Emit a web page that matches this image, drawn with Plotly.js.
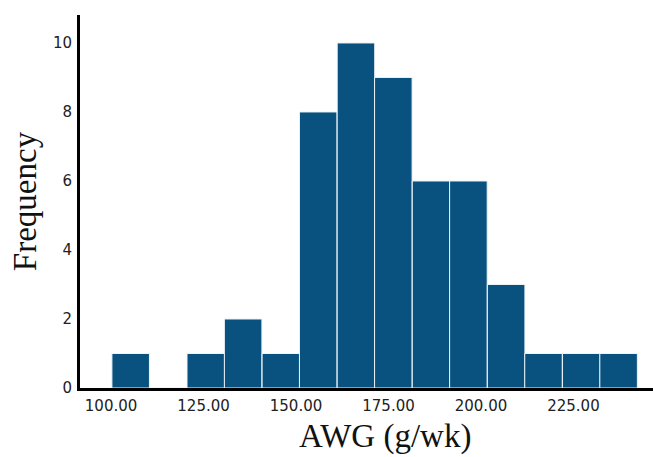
<!DOCTYPE html>
<html>
<head>
<meta charset="utf-8">
<script src="https://cdn.plot.ly/plotly-3.0.1.min.js"></script>
<style>html,body{margin:0;padding:0;background:#fff;}#chart{width:653px;height:457px;}</style>
</head>
<body>
<div id="chart"></div>
<script>
// Bin centers of the AWG histogram (g/wk) and the frequency in each bin
var binCenters = [105.3, 115.4, 125.6, 135.7, 145.9, 156.0, 166.2, 176.3, 186.5, 196.6, 206.8, 216.9, 227.1, 237.2];
var binWidth = 10.15;
var frequencies = [1, 0, 1, 2, 1, 8, 10, 9, 6, 6, 3, 1, 1, 1];
var xTicks = [100, 125, 150, 175, 200, 225];
var yTicks = [0, 2, 4, 6, 8, 10];
var xTitle = 'AWG (g/wk)';
var yTitle = 'Frequency';

var trace = {
  type: 'bar',
  x: binCenters,
  y: frequencies,
  width: binCenters.map(function(){ return binWidth; }),
  marker: { color: 'rgb(9,82,128)', line: { color: '#eef4f8', width: 1 } },
  hoverinfo: 'x+y'
};

var layout = {
  width: 653, height: 457,
  margin: { l: 80, r: 0, t: 15, b: 69 },
  paper_bgcolor: '#fff', plot_bgcolor: '#fff',
  showlegend: false,
  bargap: 0,
  xaxis: {
    range: [91.6, 246.5],
    tickvals: xTicks,
    ticktext: xTicks.map(function(v){ return v.toFixed(2); }),
    ticks: '',
    ticklabelstandoff: 2,
    showgrid: false, zeroline: false,
    showline: true, linecolor: '#000', linewidth: 3,
    tickfont: { family: 'DejaVu Sans', size: 15, color: '#222' }
  },
  yaxis: {
    range: [0, 10.81],
    tickvals: yTicks,
    ticks: '',
    ticklabelstandoff: 2,
    showgrid: false, zeroline: false,
    showline: true, linecolor: '#000', linewidth: 3,
    tickfont: { family: 'DejaVu Sans', size: 15, color: '#222' },
    title: { text: yTitle, font: { family: 'Liberation Serif', size: 33, color: '#111' }, standoff: 7 }
  },
  annotations: [{
    text: xTitle, xref: 'paper', yref: 'paper', x: 0.532, y: -0.184,
    xanchor: 'center', yanchor: 'bottom', showarrow: false,
    font: { family: 'Liberation Serif', size: 33, color: '#111' }
  }]
};

Plotly.newPlot('chart', [trace], layout, { displayModeBar: false, staticPlot: true });
</script>
</body>
</html>
